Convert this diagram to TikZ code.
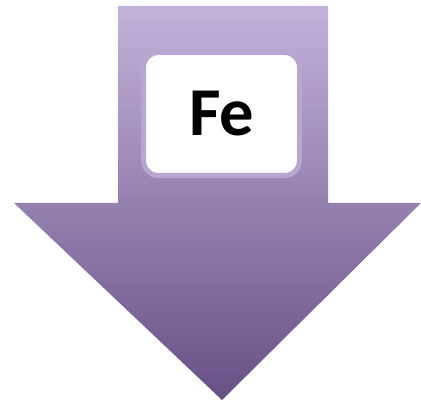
\documentclass[tikz,border=0pt]{standalone}
\usepackage{fontspec}
\setmainfont{Carlito}
\usepackage{tikz}

\definecolor{arrowtop}{RGB}{194,178,218}
\definecolor{arrowbot}{RGB}{104,80,134}
\definecolor{boxrim}{RGB}{184,166,208}

\begin{document}
\begin{tikzpicture}[x=0.02cm, y=-0.02cm]
        \useasboundingbox (0,0) rectangle (421,401);
        % the big arrow, shaft and head in one path
        \shade[top color=arrowtop, bottom color=arrowbot]
            (118,6) -- (328,6) -- (328,203) -- (421,203) -- (222,400)
            -- (14,203) -- (118,203) -- cycle;
        % the white label box
        \node[fill=white, draw=boxrim, line width=0.1cm, rounded corners=0.3cm,
              minimum width=156*0.02cm, minimum height=123*0.02cm,
              font=\fontsize{39}{39}\selectfont\bfseries] (fe) at (221.5,114) {Fe};
    \end{tikzpicture}
\end{document}
